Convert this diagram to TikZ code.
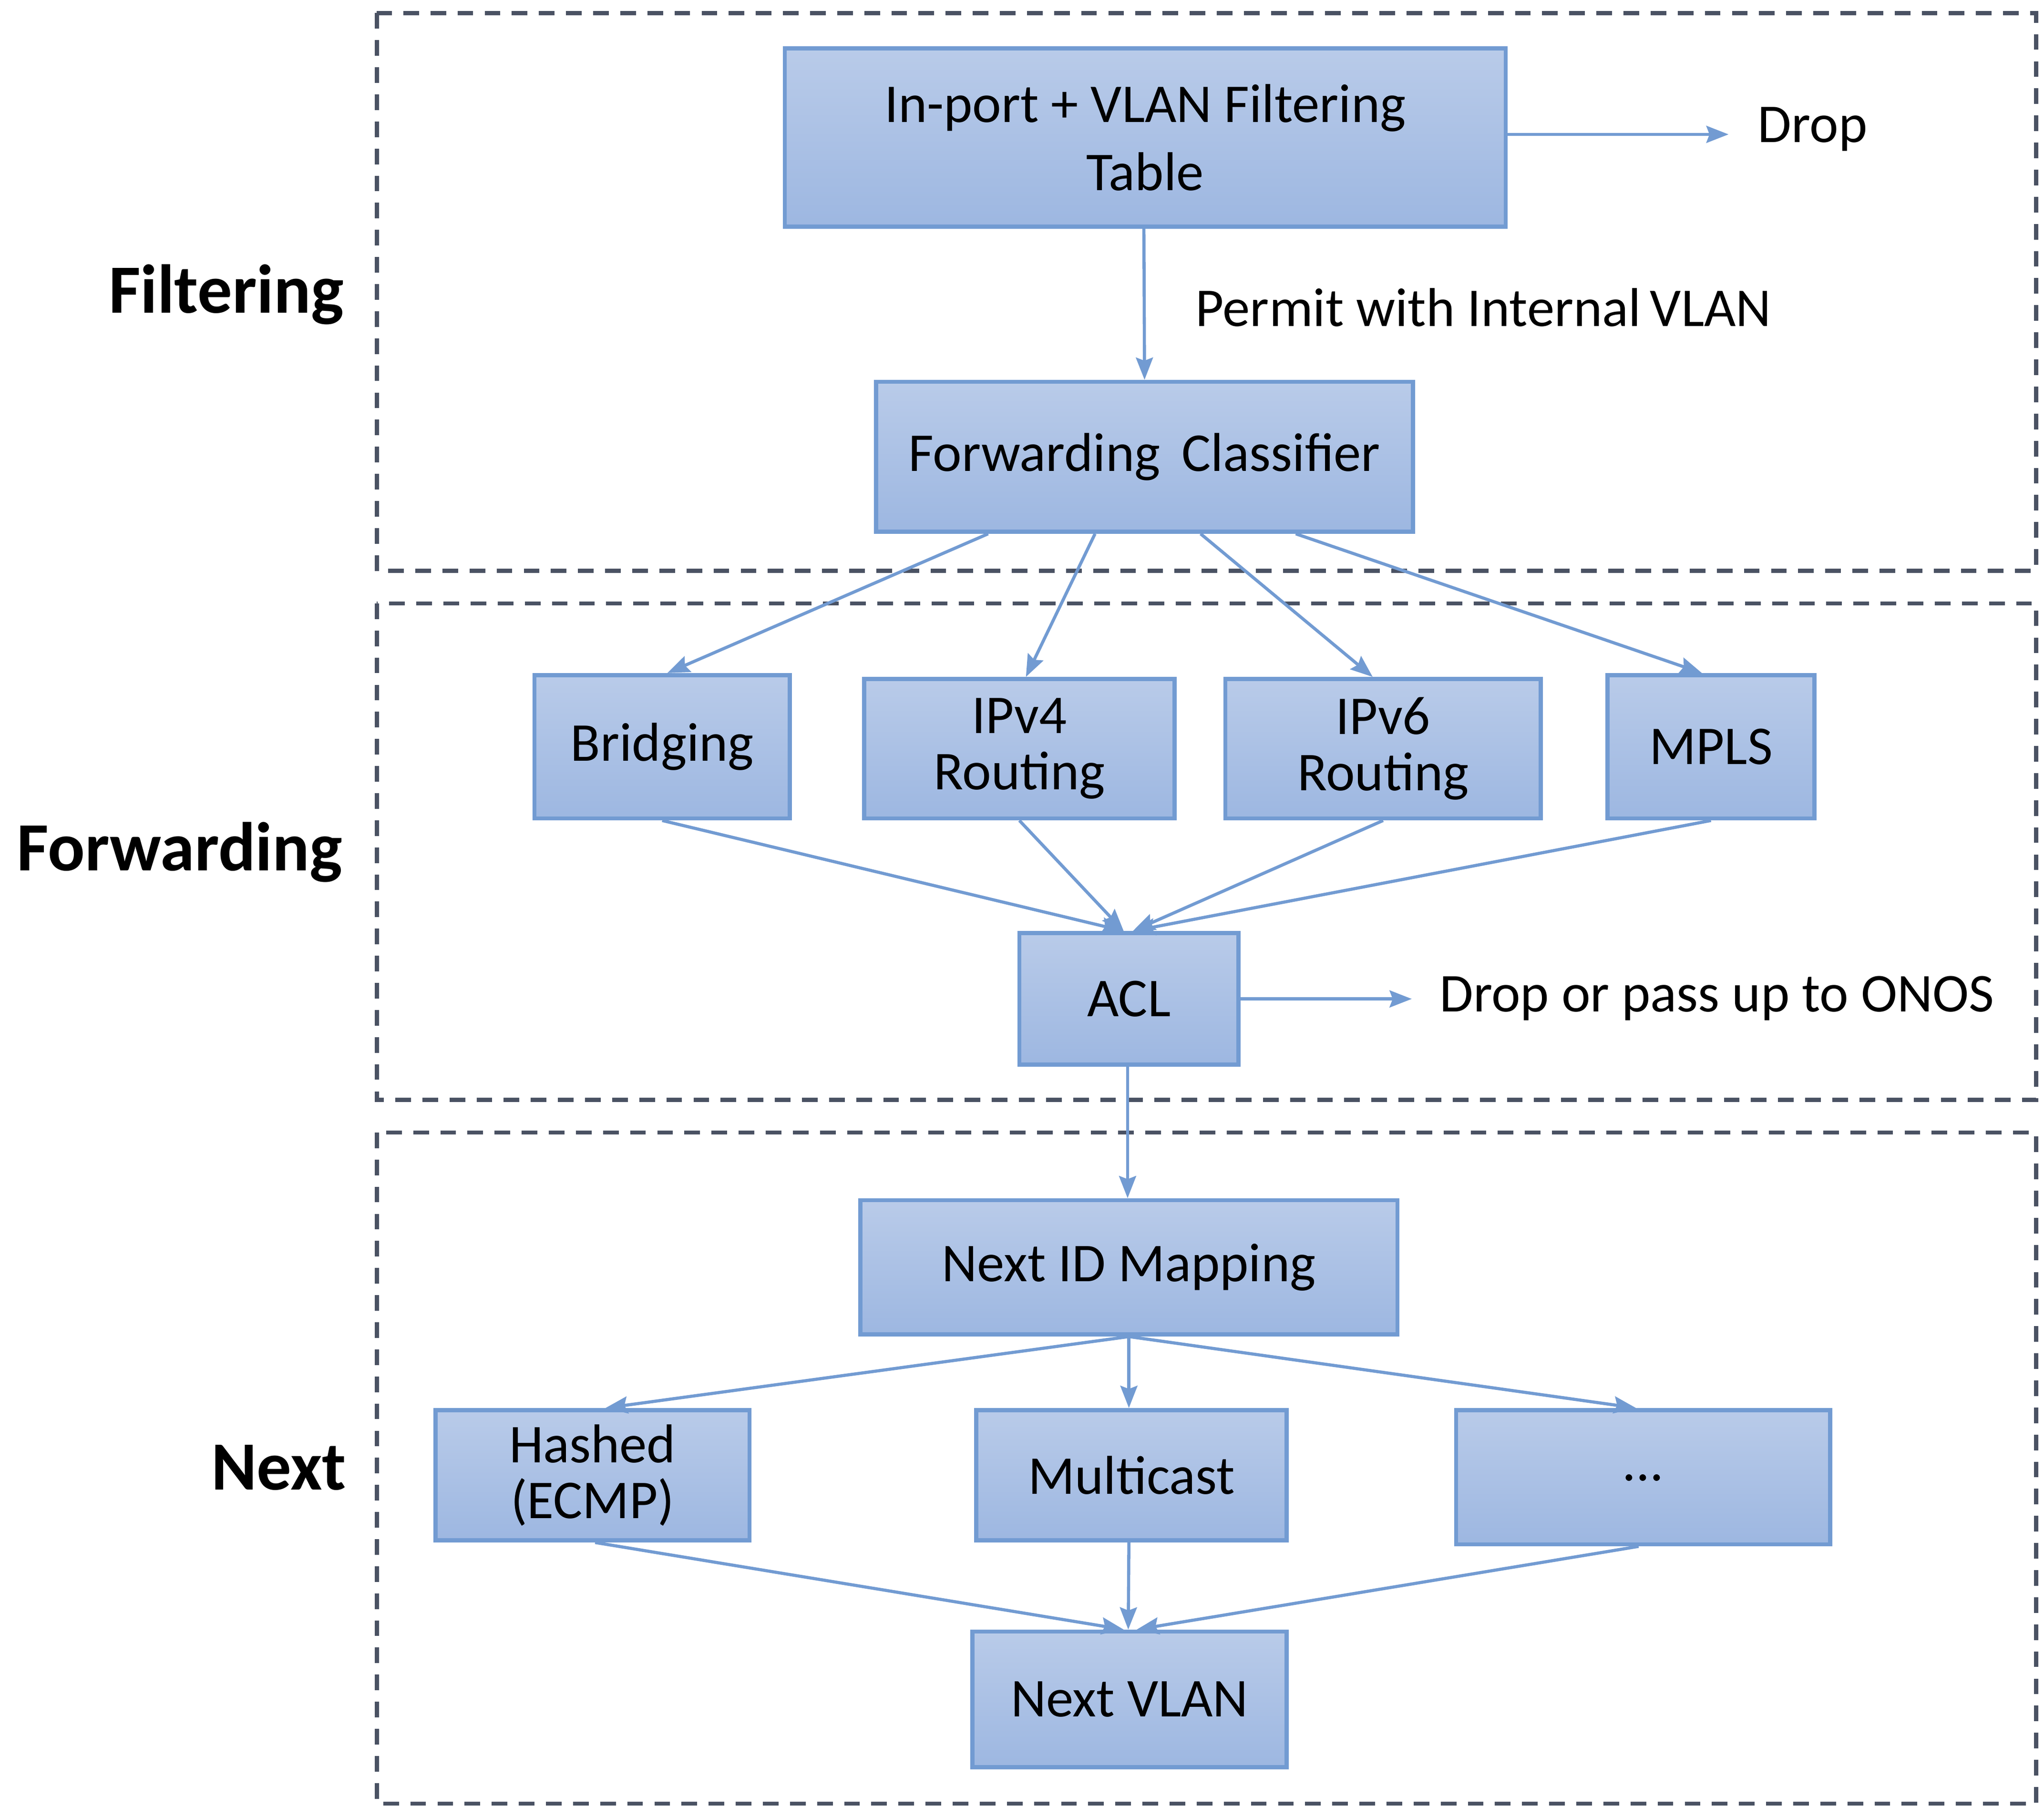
\documentclass[tikz,border=0pt]{standalone}
\usepackage{fontspec}
\setmainfont{Carlito}
\usetikzlibrary{arrows.meta,shadings}
\definecolor{boxtop}{HTML}{B9CBE9}
\definecolor{boxbot}{HTML}{9DB7E1}
\definecolor{boxline}{HTML}{729BD2}
\definecolor{arrowcol}{HTML}{729BD2}
\definecolor{dashcol}{HTML}{4A5263}
\begin{document}
\begin{tikzpicture}[x=0.5pt,y=-0.5pt,
  box/.style={draw=boxline, line width=1.6pt, top color=boxtop, bottom color=boxbot,
    shading angle=0, inner sep=0pt, align=center, font=\fontsize{21}{25}\selectfont},
  lbl/.style={inner sep=0pt, font=\fontsize{21}{25}\selectfont},
  sect/.style={inner sep=0pt, font=\fontsize{26.5}{30}\selectfont\bfseries, anchor=east},
  conn/.style={draw=arrowcol, line width=1.2pt, -{Stealth[length=8.5pt,width=6.5pt,inset=1.2pt]}},
  frame/.style={draw=dashcol, line width=1.6pt, dash pattern=on 6pt off 4.4pt}]
\useasboundingbox (0,0) rectangle (1568,1394);

% dashed section frames
\draw[frame] (289,10) rectangle (1562,438);
\draw[frame] (289,463) rectangle (1562,844);
\draw[frame] (289,869) rectangle (1562,1384);

% section labels
\node[sect] (lfilt) at (264,226) {Filtering};
\node[sect] (lfwd) at (263,654) {Forwarding};
\node[sect] (lnext) at (266,1126) {Next};

% nodes
\node[box, minimum width=276.5pt, minimum height=68.5pt,
  font=\fontsize{21}{26}\selectfont] (inport) at (878.5,105.5) {In-port + VLAN Filtering\\Table};
\node[box, minimum width=206pt, minimum height=57.5pt] (fc) at (878,350.5) {Forwarding\, Classifier};
\node[box, minimum width=98pt, minimum height=55pt] (br) at (508,573) {Bridging};
\node[box, minimum width=119pt, minimum height=53.5pt,
  font=\fontsize{21}{21.5}\selectfont] (ip4) at (782,574.5) {IPv4\\Routing};
\node[box, minimum width=121pt, minimum height=53.5pt,
  font=\fontsize{21}{21.5}\selectfont] (ip6) at (1061,574.5) {IPv6\\Routing};
\node[box, minimum width=79.5pt, minimum height=55pt] (mpls) at (1312.5,573) {MPLS};
\node[box, minimum width=84pt, minimum height=50.5pt] (acl) at (866,766.5) {ACL};
\node[box, minimum width=206pt, minimum height=51.5pt] (nid) at (866,972.5) {Next ID Mapping};
\node[box, minimum width=120.5pt, minimum height=50pt,
  font=\fontsize{21}{21.5}\selectfont] (hash) at (454.5,1132) {Hashed\\(ECMP)};
\node[box, minimum width=119pt, minimum height=50pt] (mc) at (868,1132) {Multicast};
\node[box, minimum width=143.5pt, minimum height=51.5pt] (dots) at (1260.5,1133.5) {\raisebox{-3pt}{...}};
\node[box, minimum width=120.5pt, minimum height=52pt] (nv) at (866.5,1304) {Next VLAN};

% free labels
\node[lbl, anchor=west] (drop) at (1348,99) {Drop};
\node[lbl] (permit) at (1138,236) {Permit with Internal\,VLAN};
\node[lbl, anchor=west] (dropup) at (1104,766) {Drop or pass up to ONOS};

% connectors
\draw[conn, shorten >=11pt] ([yshift=1.2pt]inport.east) -- ([yshift=1.2pt]inport.east -| drop.west);
\draw[conn] ([xshift=-0.5pt]inport.south) -- (fc.north);
\draw[conn] ([xshift=-60pt]fc.south) -- ([xshift=2pt]br.north);
\draw[conn] ([xshift=-19pt]fc.south) -- ([xshift=2.5pt]ip4.north);
\draw[conn] ([xshift=21.5pt]fc.south) -- ([xshift=-4pt]ip6.north);
\draw[conn] ([xshift=58pt]fc.south) -- ([xshift=-3.5pt]mpls.north);
\draw[conn] (br.south) -- ([xshift=-2pt]acl.north);
\draw[conn] (ip4.south) -- ([xshift=-2pt]acl.north);
\draw[conn] (ip6.south) -- ([xshift=1.5pt]acl.north);
\draw[conn] (mpls.south) -- ([xshift=1.5pt]acl.north);
\draw[conn, shorten >=10.5pt] (acl.east) -- (acl.east -| dropup.west);
\draw[conn] ([xshift=-0.5pt]acl.south) -- ([xshift=-0.5pt]nid.north);
\draw[conn] (nid.south) -- ([xshift=5pt]hash.north);
\draw[conn] (nid.south) -- ([xshift=-1pt]mc.north);
\draw[conn] (nid.south) -- ([xshift=-2.75pt]dots.north);
\draw[conn] ([xshift=1pt]hash.south) -- ([xshift=-2.25pt]nv.north);
\draw[conn] ([xshift=-1pt]mc.south) -- ([xshift=-0.5pt]nv.north);
\draw[conn] ([xshift=-1.75pt]dots.south) -- ([xshift=2.75pt]nv.north);
\end{tikzpicture}
\end{document}
